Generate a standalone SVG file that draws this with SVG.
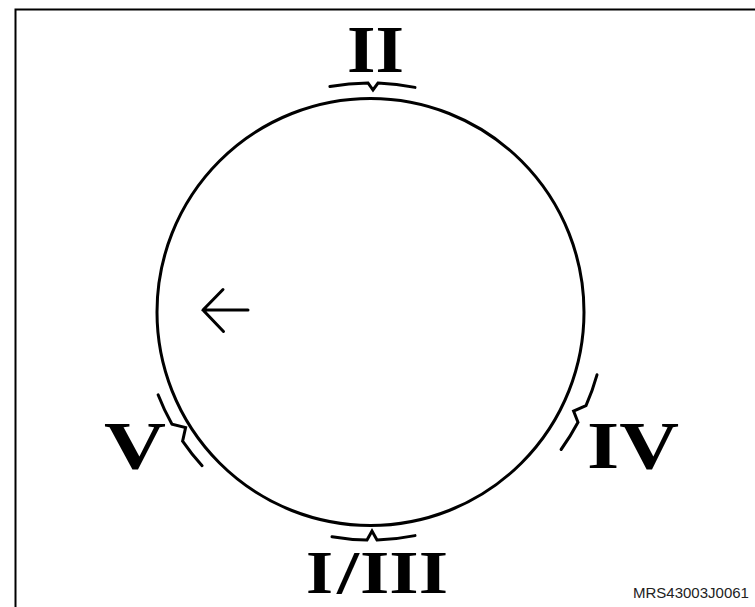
<svg xmlns="http://www.w3.org/2000/svg" width="755" height="607" viewBox="0 0 755 607">
<style>
.ln{fill:none;stroke:#000;stroke-width:3;stroke-linecap:round;stroke-linejoin:miter}
.rn{font-family:"Liberation Serif","Times New Roman",serif;font-weight:bold;font-size:68px;fill:#000}
.code{font-family:"Liberation Sans",Arial,sans-serif;font-size:15px;fill:#222}
</style>
<rect width="755" height="607" fill="#fff"/>
<path d="M15.5,607 V9.5 H755" fill="none" stroke="#000" stroke-width="2"/>
<g id="circle">
<circle cx="370.5" cy="312" r="213.5" class="ln"/>
</g>
<g id="connectors">
<path class="ln" d="M203,310 H248 M223,289.5 L203,310 L223.5,331.5"/>
<path class="ln" d="M329.9,86.6 A229,229 0 0 1 368,83 L373,90 L378,83.1 A229,229 0 0 1 415,87.4"/>
<path class="ln" d="M332,536.7 A228,228 0 0 0 367,540 L372,531 L377,540 A228,228 0 0 0 415,535.6"/>
<path class="ln" d="M158.1,394.8 A228,228 0 0 0 172,424.3 L185.6,427.5 L182.6,441.1 A228,228 0 0 0 202.1,465.7"/>
<path class="ln" d="M597,374.8 A235,235 0 0 1 586,405.7 L573.6,411.1 L578,422.3 A235,235 0 0 1 561.1,449.5"/>
</g>
<g id="label-II"><text class="rn" x="347" y="72" textLength="57" lengthAdjust="spacingAndGlyphs">II</text></g>
<g id="label-V"><text class="rn" x="104" y="468" textLength="62" lengthAdjust="spacingAndGlyphs">V</text></g>
<g id="label-IV"><text class="rn" x="587" y="468" textLength="92" lengthAdjust="spacingAndGlyphs">IV</text></g>
<g id="label-I-III">
<text class="rn" x="306" y="593" style="font-size:62px" textLength="27" lengthAdjust="spacingAndGlyphs">I</text>
<text class="rn" x="337" y="593" style="font-size:62px" textLength="22" lengthAdjust="spacingAndGlyphs">/</text>
<text class="rn" x="360" y="593" style="font-size:62px" textLength="88" lengthAdjust="spacingAndGlyphs">III</text>
</g>
<text class="code" x="633" y="598">MRS43003J0061</text>
</svg>
